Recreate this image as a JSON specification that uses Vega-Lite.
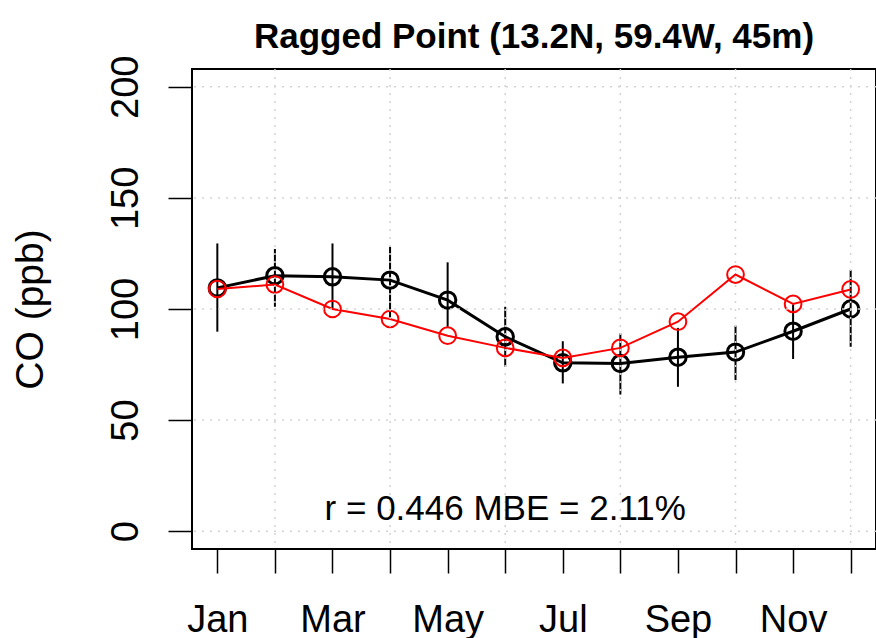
{
  "$schema": "https://vega.github.io/schema/vega-lite/v6.json",
  "width": 684,
  "height": 480,
  "autosize": "none",
  "padding": {"left": 192, "top": 69, "right": 0, "bottom": 89},
  "background": "white",
  "title": {"text": "Ragged Point (13.2N, 59.4W, 45m)", "font": "Liberation Sans", "fontSize": 35, "fontWeight": "bold", "color": "black", "anchor": "middle", "offset": 0},
  "config": {
    "view": {"stroke": "black", "strokeWidth": 2},
    "font": "Liberation Sans",
    "axisX": {
      "domain": false, "grid": false, "tickSize": 24, "tickWidth": 1.5, "tickColor": "black",
      "labelFont": "Liberation Sans", "labelFontSize": 38, "labelColor": "black", "labelPadding": 28,
      "labelOverlap": false, "labelFlush": false, "labelBaseline": "top"
    },
    "axisY": {
      "domain": false, "grid": false, "tickSize": 24, "tickWidth": 1.5, "tickColor": "black",
      "labelFont": "Liberation Sans", "labelFontSize": 38, "labelColor": "black", "labelAngle": 270,
      "labelAlign": "center", "labelBaseline": "alphabetic", "labelPadding": 31, "labelOverlap": false, "labelFlush": false,
      "titleFont": "Liberation Sans", "titleFontSize": 39, "titleFontWeight": "normal", "titleColor": "black", "titlePadding": 57
    }
  },
  "datasets": {
    "obs": [
      {"month": 1, "value": 109.5, "lo": 89.8, "hi": 129.5},
      {"month": 2, "value": 115.0, "lo": 101.0, "hi": 127.0},
      {"month": 3, "value": 114.5, "lo": 100.0, "hi": 129.5},
      {"month": 4, "value": 113.0, "lo": 96.0, "hi": 128.0},
      {"month": 5, "value": 104.0, "lo": 92.0, "hi": 121.0},
      {"month": 6, "value": 87.5, "lo": 74.0, "hi": 101.0},
      {"month": 7, "value": 75.8, "lo": 66.5, "hi": 85.5},
      {"month": 8, "value": 75.5, "lo": 61.5, "hi": 89.0},
      {"month": 9, "value": 78.3, "lo": 65.0, "hi": 91.5},
      {"month": 10, "value": 80.6, "lo": 68.0, "hi": 92.5},
      {"month": 11, "value": 90.0, "lo": 77.5, "hi": 102.0},
      {"month": 12, "value": 100.0, "lo": 83.0, "hi": 117.5}
    ],
    "model": [
      {"month": 1, "value": 109.0},
      {"month": 2, "value": 111.0},
      {"month": 3, "value": 100.0},
      {"month": 4, "value": 95.5},
      {"month": 5, "value": 88.0},
      {"month": 6, "value": 82.5},
      {"month": 7, "value": 78.0},
      {"month": 8, "value": 82.5},
      {"month": 9, "value": 94.3},
      {"month": 10, "value": 115.5},
      {"month": 11, "value": 102.3},
      {"month": 12, "value": 108.8}
    ],
    "hgrid": [{"value": 0}, {"value": 50}, {"value": 100}, {"value": 150}, {"value": 200}],
    "vgrid": [{"month": 2}, {"month": 4}, {"month": 6}, {"month": 8}, {"month": 10}, {"month": 12}],
    "note": [{"month": 6, "value": 5, "label": "r = 0.446 MBE = 2.11%"}]
  },
  "layer": [
    {
      "data": {"name": "obs"},
      "mark": {"type": "line", "color": "black", "strokeWidth": 3},
      "encoding": {
        "x": {"field": "month", "type": "quantitative", "title": null,
              "scale": {"domain": [0.56, 12.44], "nice": false, "zero": false},
              "axis": {"values": [1,2,3,4,5,6,7,8,9,10,11,12],
                       "labelExpr": "datum.value % 2 == 1 ? ['Jan','Feb','Mar','Apr','May','Jun','Jul','Aug','Sep','Oct','Nov','Dec'][datum.value - 1] : ''"}},
        "y": {"field": "value", "type": "quantitative", "title": "CO (ppb)",
              "scale": {"domain": [-8, 208], "nice": false, "zero": false},
              "axis": {"values": [0, 50, 100, 150, 200]}}
      }
    },
    {
      "data": {"name": "obs"},
      "mark": {"type": "point", "shape": "circle", "filled": false, "color": "black", "strokeWidth": 3, "size": 270, "opacity": 1},
      "encoding": {
        "x": {"field": "month", "type": "quantitative", "title": null},
        "y": {"field": "value", "type": "quantitative", "title": "CO (ppb)"}
      }
    },
    {
      "data": {"name": "obs"},
      "mark": {"type": "rule", "color": "black", "strokeWidth": 2},
      "encoding": {
        "x": {"field": "month", "type": "quantitative", "title": null},
        "y": {"field": "lo", "type": "quantitative", "title": "CO (ppb)"},
        "y2": {"field": "hi"}
      }
    },
    {
      "data": {"name": "model"},
      "mark": {"type": "line", "color": "#FF0000", "strokeWidth": 2},
      "encoding": {
        "x": {"field": "month", "type": "quantitative", "title": null},
        "y": {"field": "value", "type": "quantitative", "title": "CO (ppb)"}
      }
    },
    {
      "data": {"name": "model"},
      "mark": {"type": "point", "shape": "circle", "filled": false, "color": "#FF0000", "strokeWidth": 2, "size": 280, "opacity": 1},
      "encoding": {
        "x": {"field": "month", "type": "quantitative", "title": null},
        "y": {"field": "value", "type": "quantitative", "title": "CO (ppb)"}
      }
    },
    {
      "data": {"name": "hgrid"},
      "mark": {"type": "rule", "color": "#D3D3D3", "strokeWidth": 1.5, "strokeDash": [2, 6]},
      "encoding": {
        "y": {"field": "value", "type": "quantitative", "title": "CO (ppb)"}
      }
    },
    {
      "data": {"name": "vgrid"},
      "mark": {"type": "rule", "color": "#D3D3D3", "strokeWidth": 1.5, "strokeDash": [2, 6]},
      "encoding": {
        "x": {"field": "month", "type": "quantitative", "title": null}
      }
    },
    {
      "data": {"name": "note"},
      "mark": {"type": "text", "font": "Liberation Sans", "fontSize": 35, "color": "black", "align": "center", "baseline": "alphabetic"},
      "encoding": {
        "x": {"field": "month", "type": "quantitative", "title": null},
        "y": {"field": "value", "type": "quantitative", "title": "CO (ppb)"},
        "text": {"field": "label"}
      }
    }
  ]
}
